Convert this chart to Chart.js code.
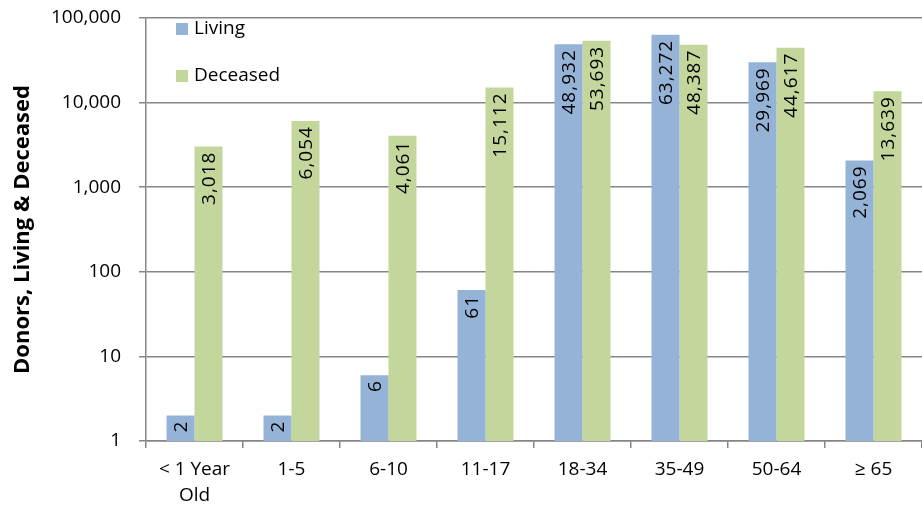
<!DOCTYPE html>
<html>
<head>
<meta charset="utf-8">
<script src="https://cdn.jsdelivr.net/npm/chart.js@4.4.1/dist/chart.umd.min.js"></script>
<style>
  html, body { margin: 0; padding: 0; background: #fff; }
  #wrap { width: 922px; height: 512px; position: relative; }
</style>
</head>
<body>
<div id="wrap"><canvas id="donorChart" width="922" height="512"></canvas></div>
<script>
const categories = [['< 1 Year', 'Old'], '1-5', '6-10', '11-17', '18-34', '35-49', '50-64', '≥ 65'];
const living = [2, 2, 6, 61, 48932, 63272, 29969, 2069];
const deceased = [3018, 6054, 4061, 15112, 53693, 48387, 44617, 13639];
const yTicks = [1, 10, 100, 1000, 10000, 100000];

const FONT = "'Open Sans', 'Noto Sans', sans-serif";
const ctx = document.getElementById('donorChart').getContext('2d');

// rotated value labels at the top end of each bar
const barLabels = {
    id: 'barLabels',
    afterDatasetsDraw(chart) {
        const c = chart.ctx;
        c.save();
        c.font = '19px ' + FONT;
        c.letterSpacing = '1px';
        c.fillStyle = '#000';
        chart.data.datasets.forEach((ds, i) => {
            chart.getDatasetMeta(i).data.forEach((bar, j) => {
                c.save();
                c.translate(bar.x, bar.y + 5);
                c.rotate(-Math.PI / 2);
                c.textAlign = 'right';
                c.textBaseline = 'middle';
                c.fillText(ds.data[j].toLocaleString('en-US'), 0, 1);
                c.restore();
            });
        });
        c.restore();
    }
};

// legend in the top-left of the plot area
const innerLegend = {
    id: 'innerLegend',
    afterDraw(chart) {
        const c = chart.ctx;
        const a = chart.chartArea;
        c.save();
        c.font = '19px ' + FONT;
        c.textBaseline = 'middle';
        chart.data.datasets.forEach((ds, i) => {
            const y = a.top + 11 + i * 47;
            c.fillStyle = ds.backgroundColor;
            c.fillRect(a.left + 30, y - 6, 12, 12);
            c.fillStyle = '#000';
            c.fillText(ds.label, a.left + 48, y);
        });
        c.restore();
    }
};

new Chart(ctx, {
    type: 'bar',
    data: {
        labels: categories,
        datasets: [{
            label: 'Living',
            data: living,
            backgroundColor: '#95b3d7'
        }, {
            label: 'Deceased',
            data: deceased,
            backgroundColor: '#c3d69b'
        }]
    },
    options: {
        responsive: false,
        animation: false,
        devicePixelRatio: 1,
        layout: { padding: { top: 18, right: 0, bottom: 0, left: 0 } },
        plugins: {
            legend: { display: false },
            tooltip: { enabled: false }
        },
        datasets: {
            bar: { categoryPercentage: 0.577, barPercentage: 1.0 }
        },
        scales: {
            x: {
                afterFit(axis) { axis.height = 71; },
                grid: {
                    display: true,
                    drawOnChartArea: false,
                    offset: true,
                    color: '#868686',
                    lineWidth: 1.5,
                    tickLength: 7
                },
                border: { color: '#868686', width: 1.5 },
                ticks: {
                    color: '#000',
                    font: { family: FONT, size: 19, lineHeight: 1.37 },
                    maxRotation: 0,
                    autoSkip: false,
                    padding: 9
                }
            },
            y: {
                type: 'logarithmic',
                min: 1,
                max: 100000,
                afterFit(axis) {
                    axis.width = 146;
                    axis.paddingTop = 0;
                    axis.paddingBottom = 0;
                },
                afterBuildTicks(axis) {
                    axis.ticks = yTicks.map(v => ({ value: v }));
                },
                grid: {
                    color: '#868686',
                    lineWidth: 1.5,
                    tickLength: 7
                },
                border: { color: '#868686', width: 1.5 },
                ticks: {
                    color: '#000',
                    font: { family: FONT, size: 19 },
                    padding: 18,
                    callback: v => Number(v).toLocaleString('en-US')
                },
                title: {
                    display: true,
                    text: 'Donors, Living & Deceased',
                    color: '#000',
                    font: { family: FONT, size: 22, weight: 'bold' },
                    padding: { top: 10, bottom: 0 }
                }
            }
        }
    },
    plugins: [barLabels, innerLegend]
});
</script>
</body>
</html>
